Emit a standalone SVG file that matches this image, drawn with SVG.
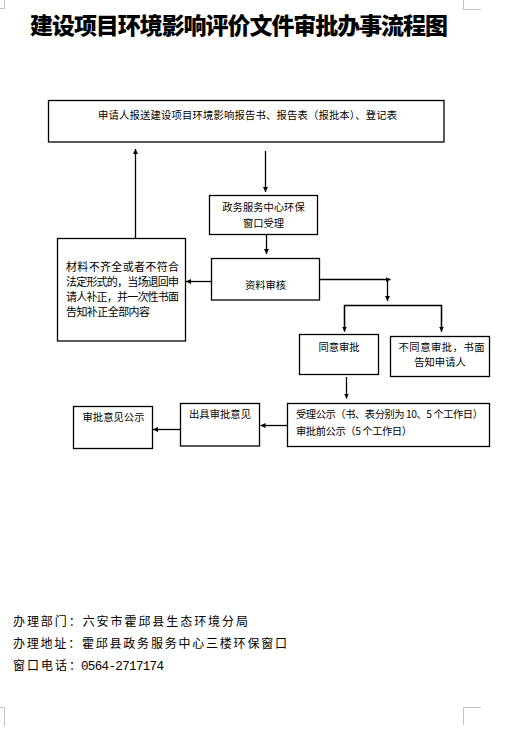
<svg xmlns="http://www.w3.org/2000/svg" width="516" height="743" viewBox="0 0 516 743">
<style>
.box{fill:#fff;stroke:#000;stroke-width:1.3}
.t{font-family:"Noto Sans CJK SC","Noto Sans",sans-serif;font-size:10.3px;fill:#000}
.lt{font-family:"Noto Sans CJK SC","Noto Sans",sans-serif;font-size:11px;fill:#000}
.ft{font-family:"Noto Sans CJK SC","Noto Sans",sans-serif;font-size:12px;fill:#000}
.c{stroke:#000;stroke-width:1.3;fill:none}
.ah{marker-end:url(#arr)}
.crop{stroke:#c0c0c0;stroke-width:1;fill:none}
</style>
<defs>
<marker id="arr" viewBox="0 0 10 10" refX="10" refY="5" markerWidth="5" markerHeight="5" markerUnits="userSpaceOnUse" orient="auto">
<path d="M0,0 L10,5 L0,10 z" fill="#000"/>
</marker>
</defs>
<rect width="516" height="743" fill="#fff"/>
<g id="cropmarks">
<path class="crop" d="M4.5,0 V8.5 H0"/>
<path class="crop" d="M463.5,0 V9.5 H481"/>
<path class="crop" d="M4.5,726 V707.5 H0"/>
<path class="crop" d="M463.5,725 V707.5 H481"/>
</g>
<text x="30" y="34" font-family="'Noto Sans CJK SC','Noto Sans',sans-serif" font-size="23" font-weight="900" textLength="418" lengthAdjust="spacing">建设项目环境影响评价文件审批办事流程图</text>

<g id="connectors">
<path class="c ah" d="M265.5,151 V192"/>
<path class="c ah" d="M135.5,238 V149"/>
<path class="c ah" d="M266.5,234.5 V254"/>
<path class="c ah" d="M211.5,281.5 H186"/>
<path class="c ah" d="M319.5,279.5 H390.5"/>
<path class="c ah" d="M387.5,279.5 V301"/>
<path class="c" d="M344.5,331.5 V305.5 H441.5 V331.5"/>
<path class="c ah" d="M344.5,305.5 V331.5"/>
<path class="c ah" d="M441.5,305.5 V331.5"/>
<path class="c ah" d="M346.5,377 V398.5"/>
<path class="c ah" d="M287.5,425.5 H260.5"/>
<path class="c ah" d="M180.5,429.5 H153"/>
</g>

<g id="n1">
<rect class="box" x="48.5" y="100.5" width="395.5" height="41.5"/>
<text class="t" x="98" y="119" textLength="299" lengthAdjust="spacing">申请人报送建设项目环境影响报告书、报告表（报批本）、登记表</text>
</g>
<g id="n2">
<rect class="box" x="209.5" y="195.5" width="108" height="39"/>
<text class="t" x="263.5" y="211" text-anchor="middle">政务服务中心环保</text>
<text class="t" x="263.5" y="227" text-anchor="middle">窗口受理</text>
</g>
<g id="n3">
<rect class="box" x="57.5" y="238.5" width="128" height="102.5"/>
<text class="lt" x="66" y="271" textLength="113" lengthAdjust="spacing">材料不齐全或者不符合</text>
<text class="lt" x="66" y="286" textLength="113" lengthAdjust="spacing">法定形式的，当场退回申</text>
<text class="lt" x="66" y="301" textLength="113" lengthAdjust="spacing">请人补正，并一次性书面</text>
<text class="lt" x="66" y="316" textLength="84" lengthAdjust="spacing">告知补正全部内容</text>
</g>
<g id="n4">
<rect class="box" x="211.5" y="258.5" width="108" height="41.5"/>
<text class="t" x="265.5" y="289" text-anchor="middle">资料审核</text>
</g>
<g id="n5">
<rect class="box" x="299.5" y="334.5" width="79" height="40"/>
<text class="t" x="339" y="351" text-anchor="middle">同意审批</text>
</g>
<g id="n6">
<rect class="box" x="390.5" y="336.5" width="99" height="40"/>
<text class="t" x="398.5" y="351" textLength="86" lengthAdjust="spacing">不同意审批，书面</text>
<text class="t" x="440" y="366" text-anchor="middle">告知申请人</text>
</g>
<g id="n7">
<rect class="box" x="287.5" y="403.5" width="202" height="43"/>
<text class="t" x="296" y="418" textLength="187" lengthAdjust="spacing">受理公示（书、表分别为 10、5 个工作日）</text>
<text class="t" x="296" y="435" textLength="116" lengthAdjust="spacing">审批前公示（5 个工作日）</text>
</g>
<g id="n8">
<rect class="box" x="180.5" y="403.5" width="79" height="42.5"/>
<text class="t" x="189" y="418" textLength="62" lengthAdjust="spacing">出具审批意见</text>
</g>
<g id="n9">
<rect class="box" x="73.5" y="406.5" width="79" height="42"/>
<text class="t" x="82.5" y="421" textLength="62" lengthAdjust="spacing">审批意见公示</text>
</g>

<g id="footer">
<text class="ft" x="13" y="626" textLength="235" lengthAdjust="spacing">办理部门：六安市霍邱县生态环境分局</text>
<text class="ft" x="13" y="648" textLength="274" lengthAdjust="spacing">办理地址：霍邱县政务服务中心三楼环保窗口</text>
<text class="ft" x="13" y="670"><tspan textLength="68" lengthAdjust="spacing">窗口电话：</tspan><tspan x="81" font-family="'Liberation Mono',monospace" font-size="12.5" textLength="83" lengthAdjust="spacing">0564-2717174</tspan></text>
</g>
</svg>
